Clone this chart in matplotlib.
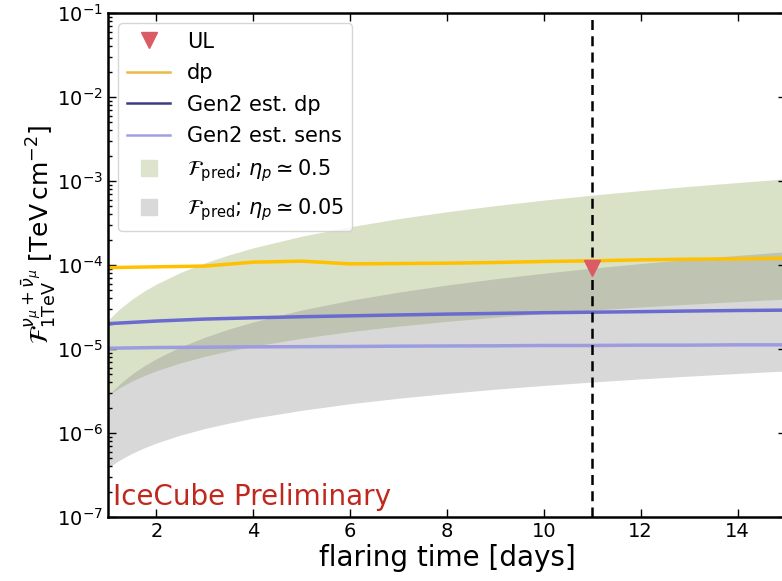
import numpy as np
import matplotlib
matplotlib.use('Agg')
import matplotlib.pyplot as plt
from matplotlib.lines import Line2D

# flaring time grid for the bands [days]
t_band = [1, 1.25, 1.5, 1.75, 2, 2.5, 3, 3.5, 4, 5, 6, 7, 8, 9, 10, 11, 12, 13, 14, 15]

# F_pred, eta_p ~ 0.5 (upper / lower edges)
hi_05 = [2.2e-5, 3.03e-5, 3.93e-5, 4.9e-5, 5.93e-5, 8.16e-5, 1.06e-4, 1.32e-4, 1.6e-4, 2.2e-4,
         2.85e-4, 3.56e-4, 4.3e-4, 5.09e-4, 5.92e-4, 6.78e-4, 7.68e-4, 8.62e-4, 9.58e-4, 1.06e-3]
lo_05 = [2.8e-6, 3.48e-6, 4.16e-6, 4.83e-6, 5.5e-6, 6.84e-6, 8.17e-6, 9.5e-6, 1.08e-5, 1.34e-5,
         1.61e-5, 1.87e-5, 2.13e-5, 2.39e-5, 2.64e-5, 2.9e-5, 3.16e-5, 3.41e-5, 3.67e-5, 3.93e-5]

# F_pred, eta_p ~ 0.05
hi_005 = [2.8e-6, 3.87e-6, 5.05e-6, 6.32e-6, 7.68e-6, 1.06e-5, 1.38e-5, 1.73e-5, 2.1e-5, 2.91e-5,
          3.8e-5, 4.75e-5, 5.77e-5, 6.85e-5, 7.98e-5, 9.17e-5, 1.04e-4, 1.17e-4, 1.3e-4, 1.44e-4]
lo_005 = [3.85e-7, 4.79e-7, 5.73e-7, 6.66e-7, 7.59e-7, 9.45e-7, 1.13e-6, 1.31e-6, 1.5e-6, 1.86e-6,
          2.23e-6, 2.59e-6, 2.95e-6, 3.32e-6, 3.68e-6, 4.04e-6, 4.4e-6, 4.75e-6, 5.11e-6, 5.47e-6]

# discovery potential / sensitivity curves
t_line = [1, 2, 3, 4, 5, 6, 7, 8, 9, 10, 11, 12, 13, 14, 15]
dp = [9.3e-5, 9.5e-5, 9.7e-5, 1.08e-4, 1.11e-4, 1.03e-4, 1.04e-4, 1.05e-4, 1.07e-4, 1.1e-4,
      1.12e-4, 1.15e-4, 1.17e-4, 1.18e-4, 1.2e-4]
gen2_dp = [2.0e-5, 2.15e-5, 2.27e-5, 2.35e-5, 2.42e-5, 2.48e-5, 2.54e-5, 2.6e-5, 2.65e-5, 2.7e-5,
           2.74e-5, 2.78e-5, 2.83e-5, 2.87e-5, 2.9e-5]
gen2_sens = [1.02e-5, 1.04e-5, 1.05e-5, 1.06e-5, 1.065e-5, 1.07e-5, 1.08e-5, 1.085e-5, 1.09e-5, 1.1e-5,
             1.1e-5, 1.11e-5, 1.11e-5, 1.12e-5, 1.12e-5]

# upper limit
t_ul = 11
ul = 9.1e-5

fig = plt.figure(figsize=(7.82, 5.81), dpi=100)
ax = fig.add_axes([0.1381, 0.1102, 0.8670, 0.8675])

ax.fill_between(t_band, lo_05, hi_05, color='olivedrab', alpha=0.25, lw=0)
ax.fill_between(t_band, lo_005, hi_005, color='gray', alpha=0.3, lw=0)

ax.plot(t_line, dp, color='#FFC000', lw=2.5)
ax.plot(t_line, gen2_dp, color='#6A6ACF', lw=2.5)
ax.plot(t_line, gen2_sens, color='#9C9CDF', lw=2.5)

ax.axvline(t_ul, color='k', ls='--', lw=1.8, dashes=(4, 2.5))
ax.plot([t_ul], [ul], marker='v', color='#DC5A64', ms=12, ls='')

ax.set_yscale('log')
ax.set_xlim(1, 15)
ax.set_ylim(1e-7, 1e-1)
ax.set_xticks([2, 4, 6, 8, 10, 12, 14])
ax.tick_params(which='both', direction='in', top=True, right=True, labelsize=14)
ax.tick_params(which='major', length=6, width=1)
ax.tick_params(which='minor', length=3, width=1)
for sp in ax.spines.values():
    sp.set_linewidth(1.8)

ax.set_xlabel('flaring time [days]', fontsize=20, labelpad=2)
ax.set_ylabel(r'$\mathcal{F}_{\rm 1TeV}^{\nu_\mu+\bar{\nu}_\mu}$ [TeV$\,$cm$^{-2}$]', fontsize=18)
ax.yaxis.set_label_coords(-0.074, 0.56)

ax.text(0.007, 0.012, 'IceCube Preliminary', color='#C0281E', fontsize=20,
        transform=ax.transAxes, ha='left', va='bottom')

handles = [
    Line2D([], [], marker='v', color='#DC5A64', ms=12, ls=''),
    Line2D([], [], color='#EBB946', lw=1.8),
    Line2D([], [], color='#3C3C82', lw=1.8),
    Line2D([], [], color='#A0A0E1', lw=1.8),
    Line2D([], [], marker='s', color='#DCE4CE', ms=12, ls=''),
    Line2D([], [], marker='s', color='#D9D9D9', ms=12, ls=''),
]
labels = ['UL', 'dp', 'Gen2 est. dp', 'Gen2 est. sens',
          r'$\mathcal{F}_{\rm pred}$; $\eta_p \simeq 0.5$',
          r'$\mathcal{F}_{\rm pred}$; $\eta_p \simeq 0.05$']
ax.legend(handles, labels, loc='upper left', fontsize=15, numpoints=1, fancybox=True,
          labelspacing=0.55, handlelength=2.1)

fig.savefig('out.png', dpi=100)
